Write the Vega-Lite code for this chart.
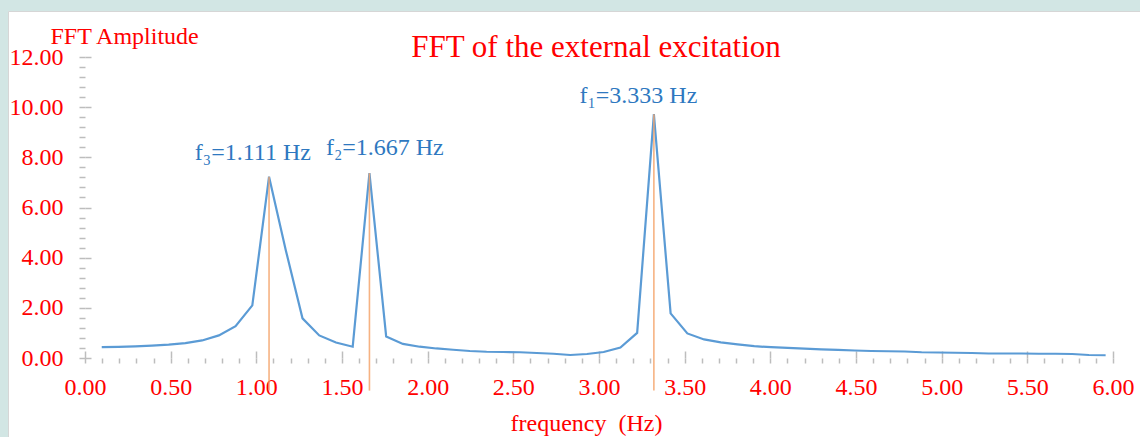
{
  "$schema": "https://vega.github.io/schema/vega-lite/v6.json",
  "autosize": {"type": "none"},
  "padding": {"left": 8, "top": 11, "right": 0, "bottom": 0},
  "width": 1132,
  "height": 426,
  "background": "#d2e6e4",
  "view": {"fill": "white", "stroke": "#d6d6d6"},
  "config": {"font": "Liberation Serif"},
  "title": {
    "text": "FFT of the external excitation",
    "font": "Liberation Serif",
    "fontSize": 31,
    "fontWeight": "normal",
    "color": "#ff0000",
    "anchor": "middle",
    "frame": "group",
    "offset": 0,
    "baseline": "alphabetic",
    "dx": 22,
    "dy": 77
  },
  "datasets": {
    "spectrum": [
      {"freq": 0.0977, "amp": 0.43}, {"freq": 0.1953, "amp": 0.44}, {"freq": 0.2930, "amp": 0.46},
      {"freq": 0.3906, "amp": 0.49}, {"freq": 0.4883, "amp": 0.53}, {"freq": 0.5859, "amp": 0.59},
      {"freq": 0.6836, "amp": 0.70}, {"freq": 0.7813, "amp": 0.90}, {"freq": 0.8789, "amp": 1.27},
      {"freq": 0.9766, "amp": 2.10}, {"freq": 1.0742, "amp": 7.23}, {"freq": 1.1719, "amp": 4.30},
      {"freq": 1.2695, "amp": 1.58}, {"freq": 1.3672, "amp": 0.90}, {"freq": 1.4648, "amp": 0.62},
      {"freq": 1.5625, "amp": 0.45}, {"freq": 1.6602, "amp": 7.37}, {"freq": 1.7578, "amp": 0.86},
      {"freq": 1.8555, "amp": 0.56}, {"freq": 1.9531, "amp": 0.45}, {"freq": 2.0508, "amp": 0.38},
      {"freq": 2.1484, "amp": 0.33}, {"freq": 2.2461, "amp": 0.28}, {"freq": 2.3438, "amp": 0.25},
      {"freq": 2.4414, "amp": 0.24}, {"freq": 2.5391, "amp": 0.23}, {"freq": 2.6367, "amp": 0.20},
      {"freq": 2.7344, "amp": 0.17}, {"freq": 2.8320, "amp": 0.12}, {"freq": 2.9297, "amp": 0.16},
      {"freq": 3.0273, "amp": 0.24}, {"freq": 3.1250, "amp": 0.42}, {"freq": 3.2227, "amp": 1.00},
      {"freq": 3.3203, "amp": 9.72}, {"freq": 3.4180, "amp": 1.78}, {"freq": 3.5156, "amp": 0.98},
      {"freq": 3.6133, "amp": 0.74}, {"freq": 3.7109, "amp": 0.62}, {"freq": 3.8086, "amp": 0.54},
      {"freq": 3.9063, "amp": 0.47}, {"freq": 4.0039, "amp": 0.43}, {"freq": 4.1016, "amp": 0.40},
      {"freq": 4.1992, "amp": 0.37}, {"freq": 4.2969, "amp": 0.34}, {"freq": 4.3945, "amp": 0.32},
      {"freq": 4.4922, "amp": 0.30}, {"freq": 4.5898, "amp": 0.28}, {"freq": 4.6875, "amp": 0.27},
      {"freq": 4.7852, "amp": 0.26}, {"freq": 4.8828, "amp": 0.23}, {"freq": 4.9805, "amp": 0.22},
      {"freq": 5.0781, "amp": 0.21}, {"freq": 5.1758, "amp": 0.20}, {"freq": 5.2734, "amp": 0.18},
      {"freq": 5.3711, "amp": 0.18}, {"freq": 5.4688, "amp": 0.18}, {"freq": 5.5664, "amp": 0.17},
      {"freq": 5.6641, "amp": 0.17}, {"freq": 5.7617, "amp": 0.16}, {"freq": 5.8594, "amp": 0.12},
      {"freq": 5.9570, "amp": 0.11}
    ],
    "peaks": [
      {"label": "f₃=1.111 Hz", "freq": 1.0742, "amp": 7.23, "lx": 0.98, "ly": 7.9},
      {"label": "f₂=1.667 Hz", "freq": 1.6602, "amp": 7.37, "lx": 1.75, "ly": 8.1},
      {"label": "f₁=3.333 Hz", "freq": 3.3203, "amp": 9.72, "lx": 3.23, "ly": 10.17}
    ]
  },
  "layer": [
    {
      "mark": {"type": "rule", "color": "#cfcfcf", "strokeWidth": 2},
      "encoding": {
        "x": {"datum": 0, "type": "quantitative", "axis": null, "scale": {"domain": [-0.4494, 6.1576], "nice": false, "zero": false}},
        "x2": {"datum": 6},
        "y": {"datum": 0, "type": "quantitative", "axis": null, "scale": {"domain": [-3.1495, 13.834], "nice": false, "zero": false}}
      }
    },
    {
      "mark": {"type": "rule", "color": "#cfcfcf", "strokeWidth": 1.5},
      "encoding": {
        "x": {"datum": 0, "type": "quantitative", "axis": null, "scale": {"domain": [-0.4494, 6.1576], "nice": false, "zero": false}},
        "y": {"datum": 0, "type": "quantitative", "axis": null, "scale": {"domain": [-3.1495, 13.834], "nice": false, "zero": false}},
        "y2": {"datum": 12}
      }
    },
    {
      "data": {"name": "spectrum"},
      "mark": {"type": "line", "color": "#5b9bd5", "strokeWidth": 2.2},
      "encoding": {
        "x": {
          "field": "freq", "type": "quantitative",
          "scale": {"domain": [-0.4494, 6.1576], "nice": false, "zero": false},
          "axis": {
            "orient": "bottom", "offset": -79,
            "values": [0,0.1,0.2,0.3,0.4,0.5,0.6,0.7,0.8,0.9,1,1.1,1.2,1.3,1.4,1.5,1.6,1.7,1.8,1.9,2,2.1,2.2,2.3,2.4,2.5,2.6,2.7,2.8,2.9,3,3.1,3.2,3.3,3.4,3.5,3.6,3.7,3.8,3.9,4,4.1,4.2,4.3,4.4,4.5,4.6,4.7,4.8,4.9,5,5.1,5.2,5.3,5.4,5.5,5.6,5.7,5.8,5.9,6],
            "labelExpr": "abs(datum.value*2 - round(datum.value*2)) < 0.001 ? format(datum.value, '.2f') : ''",
            "labelFont": "Liberation Serif", "labelFontSize": 24, "labelColor": "#ff0000",
            "labelPadding": 12, "labelFlush": false, "labelOverlap": false, "labelBound": false,
            "tickSize": 5, "tickColor": "#bdbdbd", "tickWidth": 1.5,
            "domain": false, "grid": false,
            "title": "frequency \u00a0(Hz)",
            "titleFont": "Liberation Serif", "titleFontSize": 24, "titleFontWeight": "normal", "titleColor": "#ff0000",
            "titleX": 578, "titleY": 72, "titleAlign": "center", "titleBaseline": "alphabetic"
          }
        },
        "y": {
          "field": "amp", "type": "quantitative",
          "scale": {"domain": [-3.1495, 13.834], "nice": false, "zero": false},
          "axis": {
            "orient": "left", "offset": -77,
            "values": [0,0.4,0.8,1.2,1.6,2,2.4,2.8,3.2,3.6,4,4.4,4.8,5.2,5.6,6,6.4,6.8,7.2,7.6,8,8.4,8.8,9.2,9.6,10,10.4,10.8,11.2,11.6,12],
            "labelExpr": "abs(datum.value/2 - round(datum.value/2)) < 0.001 ? format(datum.value, '.2f') : ''",
            "labelFont": "Liberation Serif", "labelFontSize": 24, "labelColor": "#ff0000",
            "labelPadding": 16, "labelOverlap": false, "labelFlush": false, "labelBound": false,
            "tickSize": 6, "tickColor": "#bdbdbd", "tickWidth": 1.5,
            "domain": false, "grid": false,
            "title": "FFT Amplitude",
            "titleFont": "Liberation Serif", "titleFontSize": 24, "titleFontWeight": "normal", "titleColor": "#ff0000",
            "titleAngle": 0, "titleX": -35, "titleY": 32, "titleAlign": "left", "titleBaseline": "alphabetic"
          }
        }
      }
    },
    {
      "data": {"name": "peaks"},
      "mark": {"type": "rule", "color": "#f4a46c", "strokeWidth": 1.6, "opacity": 0.85},
      "encoding": {
        "x": {
          "field": "freq", "type": "quantitative",
          "scale": {"domain": [-0.4494, 6.1576], "nice": false, "zero": false},
          "axis": {
            "orient": "bottom", "offset": -79,
            "values": [0,0.5,1,1.5,2,2.5,3,3.5,4,4.5,5,5.5,6],
            "labels": false, "tickSize": -7, "tickColor": "#bdbdbd", "tickWidth": 1.5,
            "domain": false, "grid": false, "title": null
          }
        },
        "y": {
          "field": "amp", "type": "quantitative",
          "scale": {"domain": [-3.1495, 13.834], "nice": false, "zero": false},
          "axis": {
            "orient": "left", "offset": -77,
            "values": [0,2,4,6,8,10,12],
            "labels": false, "tickSize": -6, "tickColor": "#bdbdbd", "tickWidth": 1.5,
            "domain": false, "grid": false, "title": null
          }
        },
        "y2": {"datum": -1.3}
      }
    },
    {
      "data": {"name": "peaks"},
      "mark": {"type": "text", "font": "Liberation Serif", "fontSize": 24, "color": "#2e78c0", "align": "center", "baseline": "alphabetic"},
      "encoding": {
        "x": {"field": "lx", "type": "quantitative", "axis": null, "scale": {"domain": [-0.4494, 6.1576], "nice": false, "zero": false}},
        "y": {"field": "ly", "type": "quantitative", "axis": null, "scale": {"domain": [-3.1495, 13.834], "nice": false, "zero": false}},
        "text": {"field": "label"}
      }
    }
  ],
  "resolve": {"axis": {"x": "independent", "y": "independent"}}
}
